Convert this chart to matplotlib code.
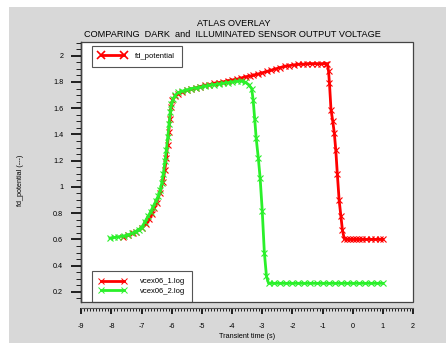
import matplotlib.pyplot as plt
from matplotlib.patches import Rectangle
from matplotlib.lines import Line2D
from matplotlib.ticker import MultipleLocator

plt.rcParams['font.family'] = ['Liberation Sans', 'DejaVu Sans']

# vcex06_1.log (dark)
x1 = [-7.62, -7.45, -7.3, -7.17, -7.0, -6.84, -6.75, -6.67, -6.58, -6.5, -6.4, -6.29,
      -6.23, -6.18, -6.14, -6.1, -6.06, -6.02, -5.98, -5.9, -5.8, -5.65, -5.5, -5.35,
      -5.2, -5.05, -4.9, -4.75, -4.6, -4.45, -4.3, -4.15, -4.0, -3.85, -3.7, -3.55,
      -3.42, -3.3, -3.15, -3.0, -2.85, -2.7, -2.55, -2.4, -2.25, -2.1, -1.95, -1.8,
      -1.65, -1.5, -1.35, -1.2, -1.05, -0.9, -0.84, -0.8, -0.77, -0.72, -0.66, -0.61,
      -0.56, -0.51, -0.45, -0.39, -0.34, -0.28, -0.2, -0.1, 0.0, 0.1, 0.2, 0.3, 0.45,
      0.6, 0.75, 0.9, 1.0]
y1 = [0.62, 0.63, 0.645, 0.66, 0.69, 0.72, 0.755, 0.79, 0.84, 0.88, 0.95, 1.04,
      1.13, 1.22, 1.32, 1.42, 1.52, 1.61, 1.66, 1.69, 1.71, 1.725, 1.735, 1.745,
      1.755, 1.765, 1.775, 1.78, 1.79, 1.795, 1.80, 1.81, 1.815, 1.82, 1.83, 1.84,
      1.845, 1.85, 1.86, 1.87, 1.88, 1.89, 1.90, 1.91, 1.92, 1.925, 1.93, 1.935,
      1.935, 1.94, 1.94, 1.94, 1.94, 1.94, 1.94, 1.88, 1.79, 1.59, 1.50, 1.41,
      1.28, 1.10, 0.90, 0.775, 0.67, 0.605, 0.60, 0.60, 0.60, 0.60, 0.60, 0.60, 0.60,
      0.60, 0.60, 0.60, 0.60]

# vcex06_2.log (illuminated)
x2 = [-8.05, -7.9, -7.78, -7.6, -7.45, -7.33, -7.2, -7.1, -7.0, -6.9, -6.79, -6.7,
      -6.62, -6.53, -6.45, -6.38, -6.33, -6.28, -6.22, -6.18, -6.13, -6.09, -6.05,
      -6.01, -5.96, -5.88, -5.78, -5.65, -5.5, -5.35, -5.2, -5.05, -4.9, -4.75, -4.6,
      -4.45, -4.3, -4.15, -4.0, -3.85, -3.7, -3.58, -3.45, -3.35, -3.3, -3.25, -3.2,
      -3.13, -3.07, -3.0, -2.93, -2.86, -2.79, -2.6, -2.4, -2.2, -2.0, -1.8, -1.6,
      -1.4, -1.2, -1.0, -0.8, -0.6, -0.4, -0.2, 0.0, 0.2, 0.4, 0.6, 0.8, 1.0]
y2 = [0.61, 0.615, 0.62, 0.625, 0.635, 0.645, 0.66, 0.675, 0.69, 0.73, 0.775, 0.81,
      0.85, 0.89, 0.93, 0.98, 1.03, 1.10, 1.20, 1.28, 1.38, 1.48, 1.57,
      1.63, 1.67, 1.70, 1.72, 1.73, 1.74, 1.75, 1.755, 1.76, 1.77, 1.775, 1.78,
      1.785, 1.79, 1.795, 1.80, 1.805, 1.81, 1.80, 1.78, 1.75, 1.66, 1.52, 1.37,
      1.22, 1.07, 0.82, 0.50, 0.32, 0.265, 0.265, 0.265, 0.265, 0.265, 0.265, 0.265,
      0.265, 0.265, 0.265, 0.265, 0.265, 0.265, 0.265, 0.265, 0.265, 0.265, 0.265, 0.265, 0.265]

red = '#ff0000'
green = '#2af02a'
bg = '#d8d8d8'

fig = plt.figure(figsize=(4.46, 3.43), dpi=100)
fig.patch.set_facecolor('white')
fig.patches.append(Rectangle((9 / 446, 0), 1, 1 - 7 / 343, transform=fig.transFigure,
                             facecolor=bg, edgecolor='none', zorder=-10))

ax = fig.add_axes([81.3 / 446, 1 - 301.7 / 343, (413 - 81.3) / 446, (301.7 - 41.7) / 343])
ax.set_facecolor('white')

ax.plot(x1, y1, color=red, lw=2.0, marker='x', ms=4, mew=0.8, zorder=3)
ax.plot(x2, y2, color=green, lw=2.0, marker='x', ms=4, mew=0.8, zorder=4)

ax.set_xlim(-9, 2)
ax.set_ylim(0.125, 2.107)

ax.xaxis.set_major_locator(MultipleLocator(1))
ax.xaxis.set_minor_locator(MultipleLocator(0.1))
ax.yaxis.set_major_locator(MultipleLocator(0.2))
ax.yaxis.set_minor_locator(MultipleLocator(0.05))

for s in ['top', 'right']:
    ax.spines[s].set_visible(False)
ax.spines['bottom'].set_position(('outward', 4.5))
ax.spines['left'].set_linewidth(1.0)
ax.spines['bottom'].set_linewidth(0.8)
ax.spines['bottom'].set_color('#555555')
ax.add_patch(Rectangle((0, 0), 1, 1, transform=ax.transAxes, fill=False,
                       edgecolor='#444444', lw=0.9, zorder=10, clip_on=False))

ax.tick_params(axis='y', which='major', length=7, width=1.2, labelsize=5.2, pad=6)
ax.tick_params(axis='y', which='minor', length=3.5, width=0.6)
ax.tick_params(axis='x', which='major', length=4, width=1.2, labelsize=5.2, pad=7)
ax.tick_params(axis='x', which='minor', length=2.5, width=0.6)
ax.set_xticks(range(-9, 3))
ax.set_xticklabels([str(v) for v in range(-9, 3)])
ax.set_yticks([0.2, 0.4, 0.6, 0.8, 1.0, 1.2, 1.4, 1.6, 1.8, 2.0])
ax.set_yticklabels(['0.2', '0.4', '0.6', '0.8', '1', '1.2', '1.4', '1.6', '1.8', '2'])

fig.text(234 / 446, 1 - 23 / 343, 'ATLAS OVERLAY', ha='center', va='center', fontsize=6.6)
fig.text(232.5 / 446, 1 - 34.5 / 343, 'COMPARING  DARK  and  ILLUMINATED SENSOR OUTPUT VOLTAGE',
         ha='center', va='center', fontsize=6.6)
fig.text(247 / 446, 1 - 337 / 343, 'Transient time (s)', ha='center', va='center', fontsize=5.2)
fig.text(20 / 446, 1 - 180 / 343, 'fd_potential (---)', ha='center', va='center',
         rotation=90, fontsize=5.2)

h_top = Line2D([], [], color=red, lw=2.0, marker='x', ms=6, mew=1.2)
leg1 = ax.legend([h_top], ['fd_potential'], loc='upper left', bbox_to_anchor=(0.031, 0.985),
                 borderaxespad=0, numpoints=2, handlelength=3.6, fontsize=5.5,
                 fancybox=False, framealpha=1, borderpad=0.9, handletextpad=1.2)
leg1.get_frame().set_edgecolor('#555555')
leg1.get_frame().set_linewidth(0.8)
ax.add_artist(leg1)

h1 = Line2D([], [], color=red, lw=2.0, marker='x', ms=5, mew=0.7)
h2 = Line2D([], [], color=green, lw=2.0, marker='x', ms=5, mew=0.7)
leg2 = ax.legend([h1, h2], ['vcex06_1.log', 'vcex06_2.log'], loc='lower left',
                 bbox_to_anchor=(0.031, 0.0), borderaxespad=0, numpoints=2,
                 handlelength=3.6, fontsize=5.5, fancybox=False, framealpha=1,
                 borderpad=0.9, handletextpad=1.8, labelspacing=0.3)
leg2.get_frame().set_edgecolor('#555555')
leg2.get_frame().set_linewidth(0.8)

fig.savefig('out.png', dpi=100)
